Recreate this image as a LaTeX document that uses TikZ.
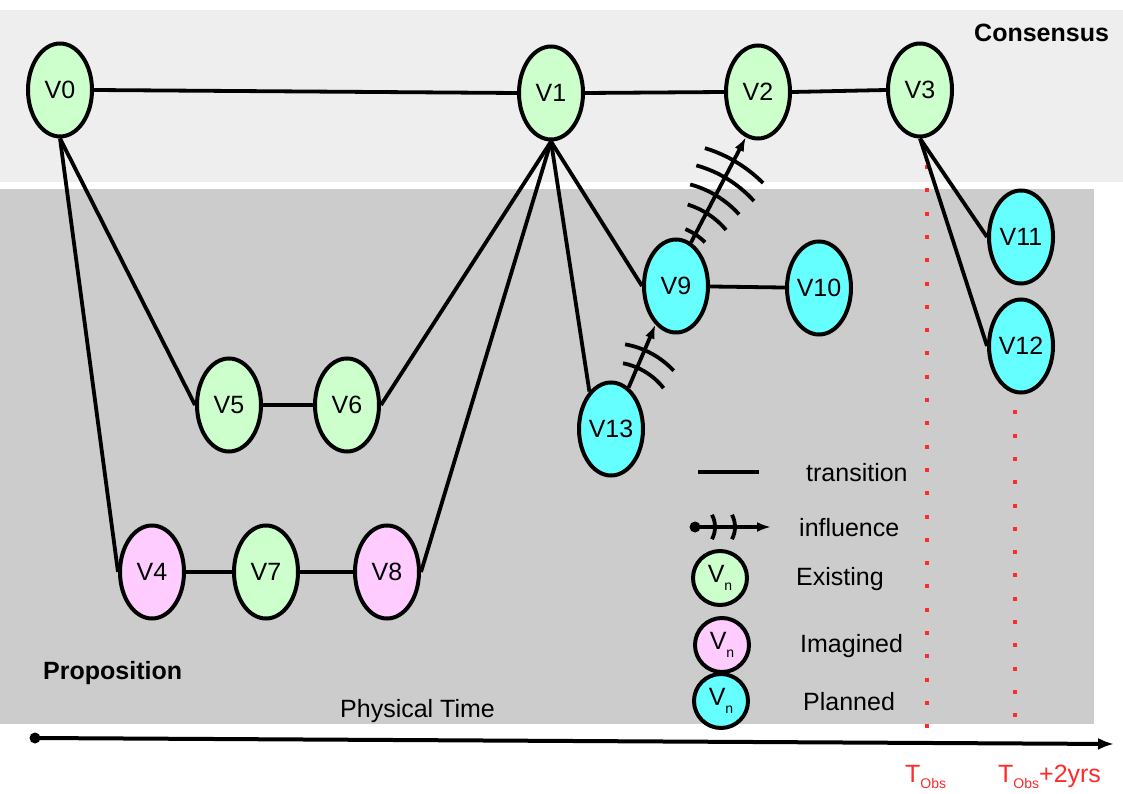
\documentclass[tikz,border=0pt]{standalone}
\usepackage{fontspec}
\setmainfont{Liberation Sans}
\usetikzlibrary{shapes.geometric,arrows.meta}
\definecolor{vgreen}{HTML}{CCFFCC}
\definecolor{vpink}{HTML}{FFCCFF}
\definecolor{vcyan}{HTML}{66FFFF}
\definecolor{consbg}{HTML}{EEEEEE}
\definecolor{propbg}{HTML}{CCCCCC}
\definecolor{tred}{HTML}{FF2A2A}
\newcommand{\bigf}{\fontsize{25}{30}\selectfont}
\newcommand{\subf}{\fontsize{14}{16}\selectfont}
\begin{document}
\begin{tikzpicture}[x=1pt,y=-1pt,
  every node/.style={font=\bigf,inner sep=0pt},
  vnode/.style={ellipse,draw,line width=4pt,minimum width=64pt,minimum height=93pt,inner sep=0pt},
  exist/.style={vnode,fill=vgreen},
  imag/.style={vnode,fill=vpink},
  plan/.style={vnode,fill=vcyan},
  lgd/.style={circle,draw,line width=4pt,minimum size=54pt,inner sep=0pt},
  trans/.style={line width=3.8pt},
  infl/.style={line width=3.8pt,-{Latex[length=14pt,width=10pt]}},
  wave/.style={line width=3.8pt},
  obsline/.style={tred,line width=4pt,dash pattern=on 4pt off 19.3pt},
  lbl/.style={anchor=base west}]
\useasboundingbox (0,0) rectangle (1123,794);
% backgrounds
\fill[consbg] (0,10) rectangle (1123,182);
\fill[propbg] (0,189) rectangle (1094,724);
\node[lbl,font=\bigf\bfseries] (cons) at (974,42) {Consensus};
\node[lbl,font=\bigf\bfseries] (prop) at (43,679) {Proposition};
\node[lbl] (ptime) at (340,717) {Physical Time};
% observation lines
\draw[obsline] (927,165) -- (927,731);
\draw[obsline] (1015,387) -- (1015,722);
% nodes
\node[exist] (V0) at (60,90) {V0};
\node[exist] (V1) at (551,93) {V1};
\node[exist] (V2) at (758,92) {V2};
\node[exist] (V3) at (920,90) {V3};
\node[exist] (V5) at (229,405) {V5};
\node[exist] (V6) at (347,405) {V6};
\node[imag] (V4) at (152,572) {V4};
\node[exist] (V7) at (266,572) {V7};
\node[imag] (V8) at (387,572) {V8};
\node[plan] (V9) at (676,286) {V9};
\node[plan] (V10) at (819,288) {V10};
\node[plan] (V13) at (611,429) {V13};
\node[plan] (V11) at (1021,237) {V11};
\node[plan] (V12) at (1021,346) {V12};
% transitions
\draw[trans] (V0.east) -- (V1.west);
\draw[trans] (V1.east) -- (V2.west);
\draw[trans] (V2.east) -- (V3.west);
\draw[trans] (V0.south) -- (V5.west);
\draw[trans] (V0.south) -- (V4.west);
\draw[trans] (V5) -- (V6);
\draw[trans] (V4) -- (V7);
\draw[trans] (V7) -- (V8);
\draw[trans] (V1.south) -- (V6.east);
\draw[trans] (V1.south) -- (V8.east);
\draw[trans] (V1.south) -- (V13.120);
\draw[trans] (V1.south) -- (V9.west);
\draw[trans] (V9) -- (V10);
\draw[trans] (V3.south) -- (V11.west);
\draw[trans] (V3.south) -- (V12.west);
% influences
\draw[infl] (V13.67) -- (V9.242);
\draw[infl] (V9.71) -- (V2.255);
\coordinate (wa) at (610,430);
\coordinate (wb) at (664,282);
\foreach \r/\a/\b in {68/38/79, 87/43/80}
  \draw[wave] ([shift={(-\a:\r)}]wa) arc[start angle=-\a, end angle=-\b, radius=\r];
\foreach \r/\a/\b in {57/44/68, 81/40/73, 101/42/75, 121/42/74.5, 140/45/73}
  \draw[wave] ([shift={(-\a:\r)}]wb) arc[start angle=-\a, end angle=-\b, radius=\r];
% legend
\coordinate (lt1) at (698,472);
\coordinate (lt2) at (759,472);
\draw[trans] (lt1) -- (lt2);
\node[lbl] (ltxt) at (806,481) {transition};
\coordinate (li1) at (695,527);
\coordinate (li2) at (771,527);
\fill (li1) circle (5.5);
\draw[infl] (li1) -- (li2);
\foreach \x in {713,733}
  \draw[wave] ([shift={(-28:26)}]\x-24,527) arc[start angle=-28, end angle=28, radius=26];
\node[lbl] (itxt) at (799,536) {influence};
\node[lgd,fill=vgreen] (LE) at (720,578) {V\raisebox{-8pt}{\subf n}};
\node[lgd,fill=vpink] (LI) at (722,645) {V\raisebox{-8pt}{\subf n}};
\node[lgd,fill=vcyan] (LP) at (721,701) {V\raisebox{-8pt}{\subf n}};
\node[lbl] (etxt) at (796,585) {Existing};
\node[lbl] (imtxt) at (800,652) {Imagined};
\node[lbl] (ptxt) at (803,710) {Planned};
% time axis
\coordinate (t0) at (35,738);
\coordinate (t1) at (1114,744);
\fill (t0) circle (5.5);
\draw[line width=4pt,-{Latex[length=16pt,width=12pt]}] (t0) -- (t1);
\node[lbl,text=tred] (tobs) at (905,782) {T\raisebox{-6pt}{\subf Obs}};
\node[lbl,text=tred] (tobs2) at (998,782) {T\raisebox{-6pt}{\subf Obs}+2yrs};
\end{tikzpicture}
\end{document}
